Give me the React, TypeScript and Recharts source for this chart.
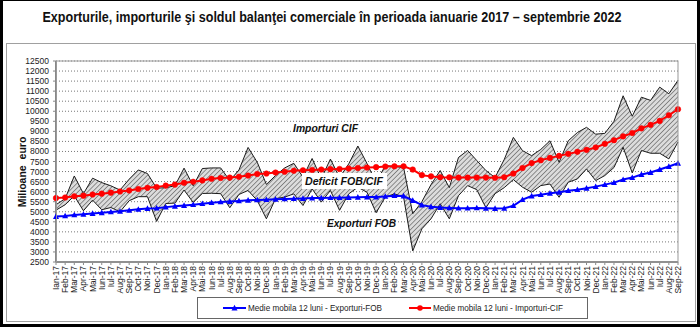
import { Area, CartesianGrid, ComposedChart, Line, XAxis, YAxis } from 'recharts'

const months = [
  'Ian-17', 'Feb-17', 'Mar-17', 'Apr-17', 'Mai-17', 'Iun-17', 'Iul-17', 'Aug-17', 'Sep-17', 'Oct-17', 'Noi-17', 'Dec-17',
  'Ian-18', 'Feb-18', 'Mar-18', 'Apr-18', 'Mai-18', 'Iun-18', 'Iul-18', 'Aug-18', 'Sep-18', 'Oct-18', 'Noi-18', 'Dec-18',
  'Ian-19', 'Feb-19', 'Mar-19', 'Apr-19', 'Mai-19', 'Iun-19', 'Iul-19', 'Aug-19', 'Sep-19', 'Oct-19', 'Noi-19', 'Dec-19',
  'Ian-20', 'Feb-20', 'Mar-20', 'Apr-20', 'Mai-20', 'Iun-20', 'Iul-20', 'Aug-20', 'Sep-20', 'Oct-20', 'Noi-20', 'Dec-20',
  'Ian-21', 'Feb-21', 'Mar-21', 'Apr-21', 'Mai-21', 'Iun-21', 'Iul-21', 'Aug-21', 'Sep-21', 'Oct-21', 'Noi-21', 'Dec-21',
  'Ian-22', 'Feb-22', 'Mar-22', 'Apr-22', 'Mai-22', 'Iun-22', 'Iul-22', 'Aug-22', 'Sep-22',
]

// importuri CIF, lunar (mil. euro)
const imports = [
  5350, 5650, 6780, 5900, 6670, 6450, 6290, 6080, 6620, 7080, 6900, 6170,
  6200, 6290, 7170, 6290, 7150, 7180, 7180, 6550, 7080, 8200, 7460, 6360,
  6800, 7180, 7410, 6720, 7650, 6650, 7620, 6700, 7380, 8270, 7400, 6450,
  7300, 7250, 7200, 4900, 5500, 6350, 7050, 6200, 7700, 8050, 7550, 7050,
  6700, 7600, 8700, 8040, 7790, 8100, 8530, 7460, 8530, 8940, 9200, 8860,
  8900, 9500, 10770, 9750, 10700, 10540, 11200, 10870, 11540,
]

// exporturi FOB, lunar (mil. euro)
const exports = [
  5080, 5350, 5790, 5050, 5580, 5100, 5210, 5000, 5550, 5750, 5750, 4520,
  5410, 5430, 6080, 5460, 5910, 5920, 5900, 5200, 5860, 6060, 5560, 4650,
  5650, 5730, 5890, 5310, 6140, 5480, 6060, 5070, 5890, 6220, 5970, 4950,
  5730, 5890, 5730, 3050, 4150, 4650, 5400, 4650, 5800, 6300, 6100, 5200,
  5900, 6200, 6600, 6220, 5970, 6300, 6380, 5720, 6470, 6630, 7130, 6550,
  6800, 7200, 8210, 6930, 8050, 7910, 7910, 7630, 8470,
]

const exportsMa = [
  4760, 4790, 4840, 4870, 4910, 4950, 4990, 5020, 5070, 5120, 5160, 5180,
  5230, 5270, 5310, 5350, 5400, 5450, 5490, 5510, 5540, 5570, 5590, 5600,
  5620, 5640, 5650, 5660, 5680, 5690, 5700, 5700, 5710, 5720, 5730, 5730,
  5760, 5800, 5780, 5560, 5330, 5250, 5210, 5190, 5180, 5180, 5190, 5170,
  5160, 5170, 5300, 5600, 5780, 5850, 5920, 5970, 6050, 6100, 6170, 6250,
  6350, 6450, 6600, 6700, 6850, 6950, 7100, 7250, 7410,
]

const importsMa = [
  5680, 5710, 5770, 5800, 5860, 5900, 5950, 6010, 6060, 6130, 6190, 6230,
  6300, 6350, 6440, 6490, 6560, 6640, 6680, 6700, 6740, 6800, 6880, 6900,
  6950, 6990, 7040, 7060, 7080, 7100, 7120, 7130, 7150, 7180, 7200, 7220,
  7250, 7260, 7260, 7100, 6820, 6760, 6720, 6710, 6700, 6700, 6700, 6700,
  6690, 6720, 6900, 7180, 7420, 7560, 7680, 7780, 7880, 7980, 8080, 8200,
  8380, 8560, 8750, 8920, 9150, 9320, 9520, 9800, 10100,
]

const yTicks = [
  2500, 3000, 3500, 4000, 4500, 5000, 5500, 6000, 6500, 7000, 7500,
  8000, 8500, 9000, 9500, 10000, 10500, 11000, 11500, 12000, 12500,
]

const data = months.map((label, i) => ({
  label,
  imp: imports[i],
  exp: exports[i],
  deficit: [exports[i], imports[i]],
  expMa: exportsMa[i],
  impMa: importsMa[i],
}))

const font = '"Liberation Sans", Arial, sans-serif'

function MonthTick({ x, y, payload }: any) {
  return (
    <text
      x={x}
      y={y}
      dy={3}
      transform={`rotate(-90 ${x} ${y})`}
      textAnchor="end"
      fontSize={8.5}
      fill="#222"
      fontFamily={font}
    >
      {payload.value}
    </text>
  )
}

function TriangleDot({ cx, cy, index }: any) {
  if (cx == null || cy == null) return <g key={index} />
  return (
    <polygon
      key={index}
      points={`${cx},${cy - 3.2} ${cx - 3},${cy + 2.4} ${cx + 3},${cy + 2.4}`}
      fill="#0000ff"
    />
  )
}

export default function App() {
  return (
    <div style={{ position: 'absolute', left: 0, top: 0, width: 700, height: 330, background: '#fff' }}>
      <ComposedChart width={700} height={330} data={data} margin={{ top: 61, right: 22, bottom: 0, left: 0 }}>
        <defs>
          <pattern id="hatch" width="3.4" height="3.4" patternUnits="userSpaceOnUse" patternTransform="rotate(45)">
            <rect width="3.4" height="3.4" fill="#dcdcdc" />
            <line x1="0" y1="0" x2="0" y2="3.4" stroke="#3a3a3a" strokeWidth={1} />
          </pattern>
        </defs>
        <CartesianGrid vertical={false} stroke="#777" strokeDasharray="1 2" />
        <XAxis
          dataKey="label"
          scale="point"
          interval={0}
          height={68}
          tick={<MonthTick />}
          tickSize={3}
          tickMargin={1}
          axisLine={{ stroke: '#888', strokeWidth: 2 }}
          tickLine={{ stroke: '#888' }}
        />
        <YAxis
          domain={[2500, 12500]}
          ticks={yTicks}
          interval={0}
          width={56}
          tickSize={3}
          tickMargin={4}
          tick={{ fontSize: 8.5, fill: '#222', fontFamily: font }}
          axisLine={{ stroke: '#888', strokeWidth: 2 }}
          tickLine={{ stroke: '#888' }}
        />
        <Area dataKey="deficit" fill="url(#hatch)" fillOpacity={1} stroke="none" isAnimationActive={false} />
        <Line dataKey="imp" stroke="#1a1a1a" strokeWidth={1} dot={false} isAnimationActive={false} />
        <Line dataKey="exp" stroke="#1a1a1a" strokeWidth={1} dot={false} isAnimationActive={false} />
        <Line
          dataKey="impMa"
          stroke="#ff0000"
          strokeWidth={2}
          dot={{ r: 2.8, fill: '#ff0000', stroke: '#ff0000', strokeWidth: 0.5 }}
          isAnimationActive={false}
        />
        <Line
          dataKey="expMa"
          stroke="#0000ff"
          strokeWidth={2}
          dot={(p: any) => <TriangleDot {...p} />}
          isAnimationActive={false}
        />
      </ComposedChart>

      <svg
        width={700}
        height={330}
        style={{ position: 'absolute', left: 0, top: 0, pointerEvents: 'none' }}
        fontFamily={font}
      >
        {/* rama */}
        <rect x={0} y={0} width={3} height={327} fill="#000" />
        <rect x={697} y={0} width={3} height={327} fill="#000" />
        <rect x={0} y={0} width={700} height={1} fill="#000" />
        <rect x={0} y={324} width={700} height={3} fill="#000" />
        <rect x={6.5} y={43.5} width={689} height={278} fill="none" stroke="#a0a0a0" />
        <rect x={56.5} y={61} width={621.5} height={201} fill="none" stroke="#999" />

        <text x={332} y={22} textAnchor="middle" fontSize={14} fontWeight="bold" fill="#111" textLength={579} lengthAdjust="spacingAndGlyphs">
          Exporturile, importurile şi soldul balanţei comerciale în perioada ianuarie 2017 – septembrie 2022
        </text>

        <text transform="translate(25.5 172) rotate(-90)" textAnchor="middle" fontSize={10.5} fontWeight="bold" fill="#111">
          {'Milioane\u00a0\u00a0euro'}
        </text>

        <text x={293} y={132} fontSize={10.5} fontWeight="bold" fontStyle="italic" fill="#111" textLength={65} lengthAdjust="spacingAndGlyphs">
          Importuri CIF
        </text>
        <rect x={302} y={173} width={85} height={16} fill="#fff" />
        <text x={305} y={185} fontSize={10.5} fontWeight="bold" fontStyle="italic" fill="#111" textLength={78} lengthAdjust="spacingAndGlyphs">
          Deficit FOB/CIF
        </text>
        <text x={327} y={227} fontSize={10.5} fontWeight="bold" fontStyle="italic" fill="#111" textLength={69} lengthAdjust="spacingAndGlyphs">
          Exporturi FOB
        </text>

        {/* legenda */}
        <rect x={197.5} y={297.5} width={390} height={21} fill="#fff" stroke="#666" />
        <line x1={223} y1={308} x2={246} y2={308} stroke="#0000ff" strokeWidth={2} />
        <polygon points="234.5,304.8 231.5,310.4 237.5,310.4" fill="#0000ff" />
        <text x={248} y={311} fontSize={8.5} fill="#222" textLength={134} lengthAdjust="spacingAndGlyphs">
          Medie mobila 12 luni - Exporturi-FOB
        </text>
        <line x1={409} y1={308} x2={431} y2={308} stroke="#ff0000" strokeWidth={2} />
        <circle cx={420} cy={308} r={2.8} fill="#ff0000" />
        <text x={433} y={311} fontSize={8.5} fill="#222" textLength={130} lengthAdjust="spacingAndGlyphs">
          Medie mobila 12 luni - Importuri-CIF
        </text>
      </svg>
    </div>
  )
}
